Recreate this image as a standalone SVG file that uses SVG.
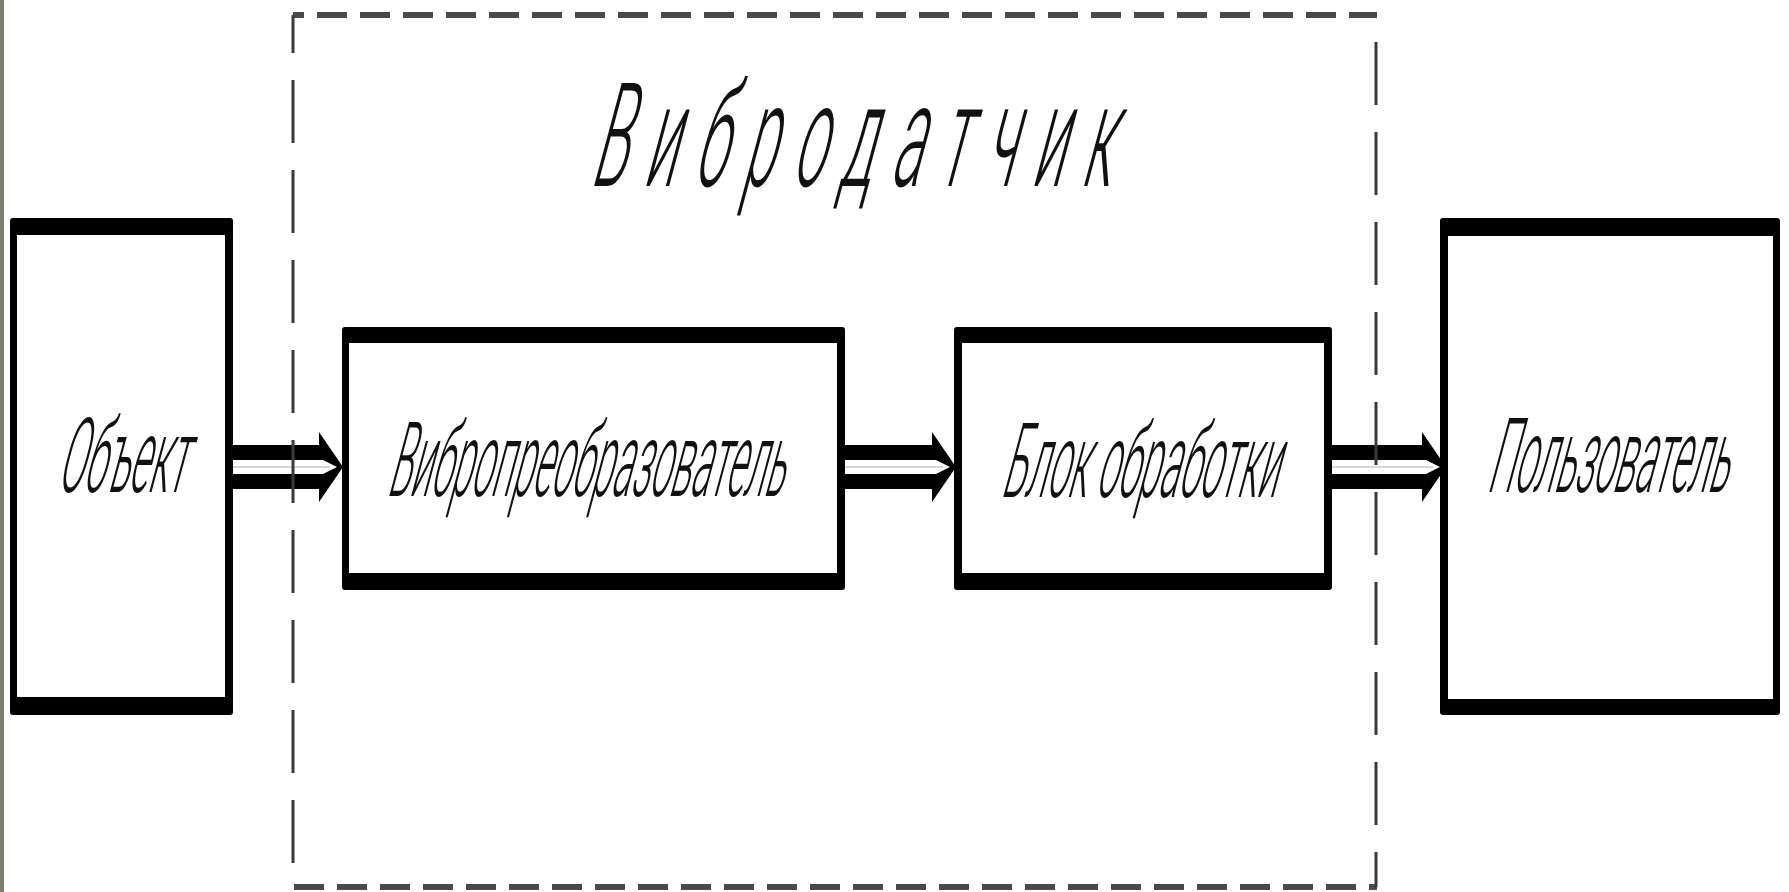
<svg xmlns="http://www.w3.org/2000/svg" width="1789" height="892" viewBox="0 0 1789 892">
  <style>
    .outer { fill: #000; }
    .inner { fill: #fff; }
    .lbl { font-family: Roboto, "Liberation Sans", "DejaVu Sans", sans-serif; font-weight: 300; font-size: 104px; fill: #111; }
    .title { font-family: Roboto, "Liberation Sans", "DejaVu Sans", sans-serif; font-weight: 300; font-size: 145px; fill: #111; letter-spacing: 46px; }
    .ablack { fill: #000; }
    .awhite { fill: #fff; }
    .amid { stroke: #b0b0b0; stroke-width: 1.2; fill: none; }
    .hdash { stroke: #4a4a4a; stroke-width: 6; stroke-dasharray: 30 13; fill: none; }
    .vdash { stroke: #3a3a3a; stroke-width: 3; stroke-dasharray: 63 27; fill: none; }
  </style>
  <rect x="0" y="0" width="1789" height="892" fill="#fff"/>
  <rect x="0" y="0" width="4" height="892" fill="#7d8070"/>

  <g id="connectors">
    <g id="arrow-object-converter">
      <path class="ablack" d="M233,445 H319 V432 L343,467 L319,502 V489 H233 Z"/>
      <path class="awhite" d="M233,460 H323 L337,467 L323,474 H233 Z"/>
      <path class="amid" d="M233,467 H330"/>
    </g>
    <g id="arrow-converter-processing">
      <path class="ablack" d="M845,445 H932 V432 L956,467 L932,502 V489 H845 Z"/>
      <path class="awhite" d="M845,460 H936 L950,467 L936,474 H845 Z"/>
      <path class="amid" d="M845,467 H943"/>
    </g>
    <g id="arrow-processing-user">
      <path class="ablack" d="M1332,445 H1422 V432 L1446,467 L1422,502 V489 H1332 Z"/>
      <path class="awhite" d="M1332,460 H1426 L1440,467 L1426,474 H1332 Z"/>
      <path class="amid" d="M1332,467 H1433"/>
    </g>
  </g>

  <g id="vibrosensor-frame">
    <line class="hdash" x1="293" y1="15" x2="1377" y2="15" stroke-dashoffset="19"/>
    <line class="hdash" x1="294" y1="887" x2="1377" y2="887"/>
    <line class="vdash" x1="293" y1="15" x2="293" y2="887" stroke-dashoffset="25"/>
    <line class="vdash" x1="1376" y1="15" x2="1376" y2="887" stroke-dashoffset="63"/>
    <text class="title" transform="translate(589,186) skewX(-15)" x="0" y="0" textLength="538" lengthAdjust="spacingAndGlyphs">Вибродатчик</text>
  </g>

  <g id="node-object">
    <rect class="outer" x="10" y="218" width="223" height="497" rx="3"/>
    <rect class="inner" x="17" y="235" width="208" height="462"/>
    <text class="lbl" transform="translate(56,492) skewX(-15)" x="0" y="0" textLength="128" lengthAdjust="spacingAndGlyphs">Объект</text>
  </g>

  <g id="node-converter">
    <rect class="outer" x="342" y="327" width="503" height="263" rx="3"/>
    <rect class="inner" x="349" y="343" width="488" height="230"/>
    <text class="lbl" transform="translate(386,496) skewX(-15)" x="0" y="0" textLength="396" lengthAdjust="spacingAndGlyphs">Вибропреобразователь</text>
  </g>

  <g id="node-processing">
    <rect class="outer" x="954" y="327" width="378" height="263" rx="3"/>
    <rect class="inner" x="962" y="343" width="362" height="230"/>
    <text class="lbl" transform="translate(1000,497) skewX(-15)" x="0" y="0" textLength="276" lengthAdjust="spacingAndGlyphs">Блок обработки</text>
  </g>

  <g id="node-user">
    <rect class="outer" x="1440" y="218" width="340" height="497" rx="3"/>
    <rect class="inner" x="1448" y="236" width="325" height="463"/>
    <text class="lbl" transform="translate(1486,492) skewX(-15)" x="0" y="0" textLength="240" lengthAdjust="spacingAndGlyphs">Пользователь</text>
  </g>
</svg>
